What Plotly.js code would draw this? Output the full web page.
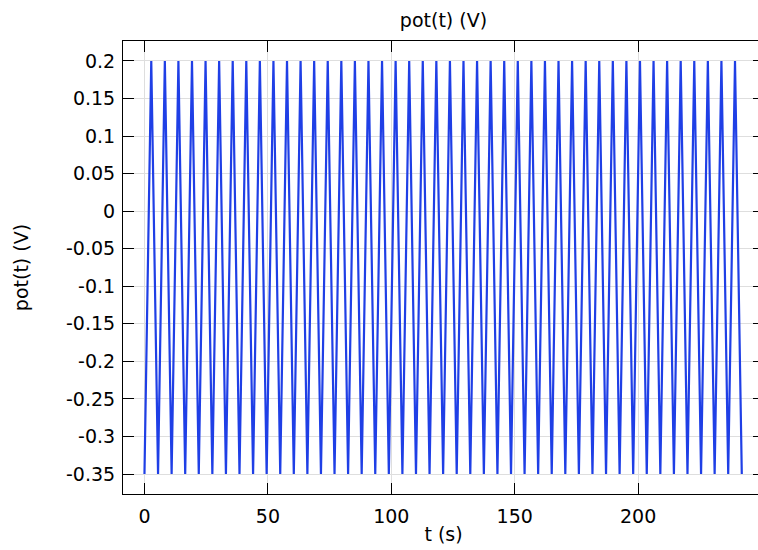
<!DOCTYPE html>
<html>
<head>
<meta charset="utf-8">
<script src="https://cdn.plot.ly/plotly-3.0.1.min.js"></script>
<style>
html, body { margin: 0; padding: 0; overflow: hidden; background: #fff; }
#chart { width: 770px; height: 550px; }
</style>
</head>
<body>
<div id="chart"></div>
<script>
// Time points (s) of the triangle-wave vertices
var timeS = [
  0, 2.75, 5.5, 8.25, 11, 13.75, 16.5, 19.25, 22, 24.75,
  27.5, 30.25, 33, 35.75, 38.5, 41.25, 44, 46.75, 49.5, 52.25,
  55, 57.75, 60.5, 63.25, 66, 68.75, 71.5, 74.25, 77, 79.75,
  82.5, 85.25, 88, 90.75, 93.5, 96.25, 99, 101.75, 104.5, 107.25,
  110, 112.75, 115.5, 118.25, 121, 123.75, 126.5, 129.25, 132, 134.75,
  137.5, 140.25, 143, 145.75, 148.5, 151.25, 154, 156.75, 159.5, 162.25,
  165, 167.75, 170.5, 173.25, 176, 178.75, 181.5, 184.25, 187, 189.75,
  192.5, 195.25, 198, 200.75, 203.5, 206.25, 209, 211.75, 214.5, 217.25,
  220, 222.75, 225.5, 228.25, 231, 233.75, 236.5, 239.25, 242
];
// Potential (V) at each vertex
var potV = [
  -0.35, 0.2, -0.35, 0.2, -0.35, 0.2, -0.35, 0.2, -0.35, 0.2,
  -0.35, 0.2, -0.35, 0.2, -0.35, 0.2, -0.35, 0.2, -0.35, 0.2,
  -0.35, 0.2, -0.35, 0.2, -0.35, 0.2, -0.35, 0.2, -0.35, 0.2,
  -0.35, 0.2, -0.35, 0.2, -0.35, 0.2, -0.35, 0.2, -0.35, 0.2,
  -0.35, 0.2, -0.35, 0.2, -0.35, 0.2, -0.35, 0.2, -0.35, 0.2,
  -0.35, 0.2, -0.35, 0.2, -0.35, 0.2, -0.35, 0.2, -0.35, 0.2,
  -0.35, 0.2, -0.35, 0.2, -0.35, 0.2, -0.35, 0.2, -0.35, 0.2,
  -0.35, 0.2, -0.35, 0.2, -0.35, 0.2, -0.35, 0.2, -0.35, 0.2,
  -0.35, 0.2, -0.35, 0.2, -0.35, 0.2, -0.35, 0.2, -0.35
];
var xTickVals = [0, 50, 100, 150, 200];
var xTickText = ["0", "50", "100", "150", "200"];
var yTickVals = [0.2, 0.15, 0.1, 0.05, 0, -0.05, -0.1, -0.15, -0.2, -0.25, -0.3, -0.35];
var yTickText = ["0.2", "0.15", "0.1", "0.05", "0", "-0.05", "-0.1", "-0.15", "-0.2", "-0.25", "-0.3", "-0.35"];

var font = { family: "DejaVu Sans, sans-serif", size: 19, color: "#000" };

var trace = {
  x: timeS,
  y: potV,
  type: "scatter",
  mode: "lines",
  line: { color: "#1f3fe6", width: 2.2 },
  hoverinfo: "skip"
};

var layout = {
  width: 770,
  height: 550,
  margin: { l: 123, r: 6, t: 41, b: 56 },
  paper_bgcolor: "#fff",
  plot_bgcolor: "#fff",
  showlegend: false,
  font: font,
  title: {
    text: "pot(t) (V)",
    font: font,
    x: 0.5,
    xref: "paper",
    xanchor: "center",
    y: 1,
    yref: "paper",
    yanchor: "bottom",
    pad: { b: 14 }
  },
  xaxis: {
    range: [-8.7, 251.0],
    tickmode: "array",
    tickvals: xTickVals,
    ticktext: xTickText,
    ticks: "inside",
    ticklen: 11,
    tickwidth: 1,
    tickcolor: "#000",
    ticklabelstandoff: 5,
    showline: true,
    linecolor: "#000",
    linewidth: 1,
    mirror: "allticks",
    showgrid: true,
    gridcolor: "#dedede",
    gridwidth: 1,
    zeroline: false,
    tickfont: font,
    title: { text: "t (s)", font: font, standoff: 1 },
    fixedrange: true
  },
  yaxis: {
    range: [-0.3766, 0.2266],
    tickmode: "array",
    tickvals: yTickVals,
    ticktext: yTickText,
    ticks: "inside",
    ticklen: 11,
    tickwidth: 1,
    tickcolor: "#000",
    ticklabelstandoff: 3,
    showline: true,
    linecolor: "#000",
    linewidth: 1,
    mirror: "allticks",
    showgrid: true,
    gridcolor: "#dedede",
    gridwidth: 1,
    zeroline: false,
    tickfont: font,
    title: { text: "pot(t) (V)", font: font, standoff: 32 },
    fixedrange: true
  }
};

Plotly.newPlot("chart", [trace], layout, { displayModeBar: false, staticPlot: true });
</script>
</body>
</html>
